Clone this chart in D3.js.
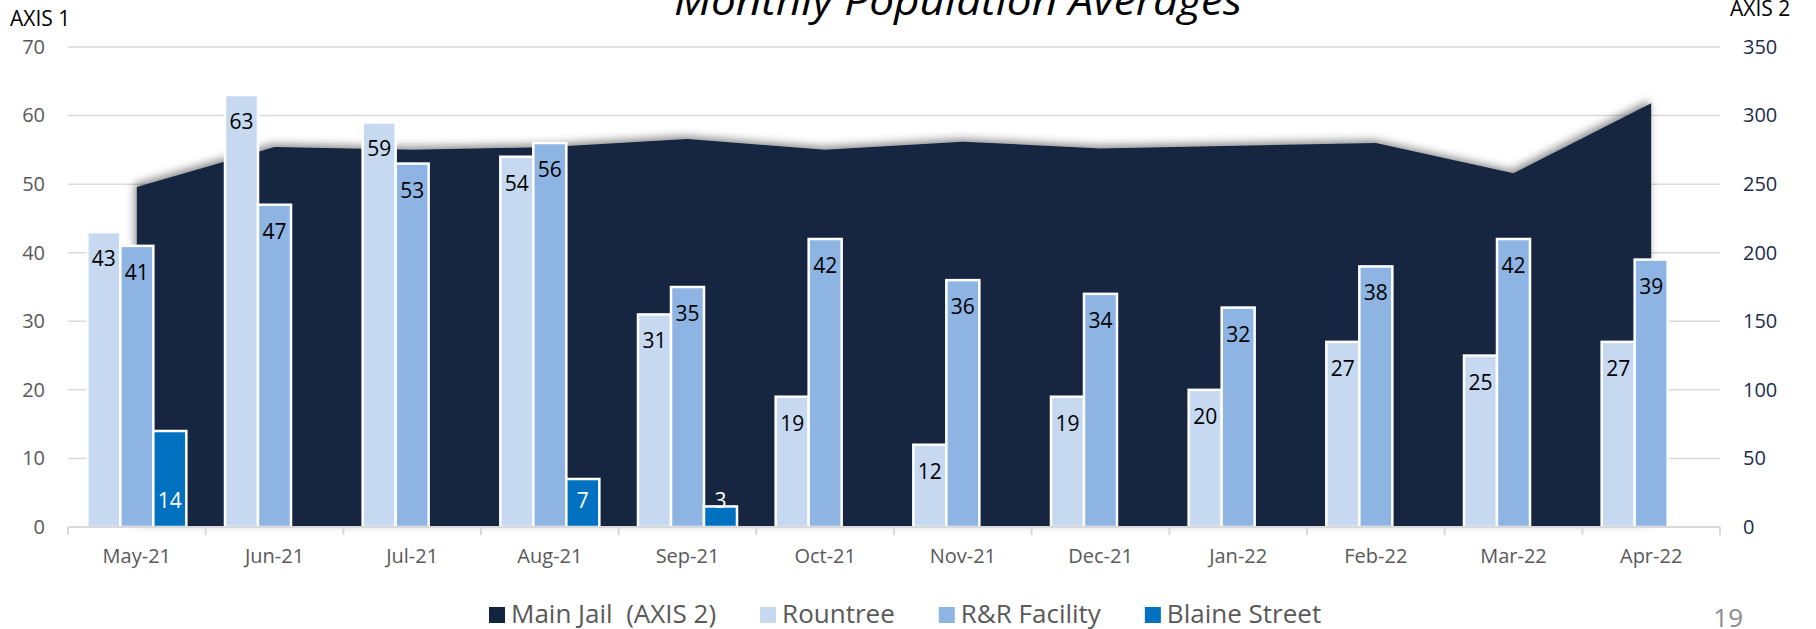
<!DOCTYPE html>
<html>
<head>
<meta charset="utf-8">
<script src="https://cdn.jsdelivr.net/npm/d3@7"></script>
<style>
  body { margin: 0; background: #fff; }
  svg { display: block; font-family: "Open Sans", sans-serif; }
</style>
</head>
<body>
<div id="chart"></div>
<script>
// chart data
const months = ['May-21', 'Jun-21', 'Jul-21', 'Aug-21', 'Sep-21', 'Oct-21',
                'Nov-21', 'Dec-21', 'Jan-22', 'Feb-22', 'Mar-22', 'Apr-22'];
const mainJail = [248, 277, 275, 277, 283, 275, 281, 276, 278, 280, 258, 309];
const rountree = [43, 63, 59, 54, 31, 19, 12, 19, 20, 27, 25, 27];
const rrFacility = [41, 47, 53, 56, 35, 42, 36, 34, 32, 38, 42, 39];
const blaineStreet = [14, null, null, 7, 3, null, null, null, null, null, null, null];
const axis1Ticks = [0, 10, 20, 30, 40, 50, 60, 70];
const axis2Ticks = [0, 50, 100, 150, 200, 250, 300, 350];

const W = 1816, H = 629;
const margin = {top: 47, right: 96, bottom: 102, left: 68};
const navy = '#12253f', grid = '#d9d9d9', gray = '#595959';

const svg = d3.select('#chart').append('svg')
    .attr('width', W).attr('height', H);

const defs = svg.append('defs');
const f = defs.append('filter').attr('id', 'shadow')
    .attr('x', '-5%').attr('y', '-20%').attr('width', '110%').attr('height', '140%');
f.append('feDropShadow').attr('dx', -2).attr('dy', -3)
    .attr('stdDeviation', 4).attr('flood-color', '#000').attr('flood-opacity', 0.45);

const x = d3.scaleBand(months, [margin.left, W - margin.right]).padding(0);
const slots = d3.scaleBand(['Rountree', 'R&R Facility', 'Blaine Street'],
    [-49.5, 49.5]).padding(0);
const y1 = d3.scaleLinear([0, 70], [H - margin.bottom, margin.top]);
const y2 = d3.scaleLinear([0, 350], [H - margin.bottom, margin.top]);
const cx = m => x(m) + x.bandwidth() / 2;

// gridlines
svg.append('g').selectAll('line')
  .data(axis1Ticks.filter(d => d > 0))
  .join('line')
    .attr('x1', margin.left).attr('x2', W - margin.right)
    .attr('y1', d => y1(d)).attr('y2', d => y1(d))
    .attr('stroke', grid).attr('stroke-width', 1.5);

// main jail area (axis 2)
const area = d3.area()
    .x((d, i) => cx(months[i]))
    .y0(y2(0))
    .y1(d => y2(d));
svg.append('path')
    .datum(mainJail)
    .attr('d', area)
    .attr('fill', navy)
    .attr('filter', 'url(#shadow)');

// bars (axis 1)
const series = [
  {name: 'Rountree', values: rountree, color: '#c6d9f0'},
  {name: 'R&R Facility', values: rrFacility, color: '#8eb4e3'},
  {name: 'Blaine Street', values: blaineStreet, color: '#0070c0'}
];
series.forEach(s => {
  const pts = s.values.map((v, i) => ({m: months[i], v})).filter(d => d.v != null);
  const g = svg.append('g');
  g.selectAll('rect').data(pts).join('rect')
    .attr('x', d => cx(d.m) + slots(s.name))
    .attr('y', d => y1(d.v))
    .attr('width', slots.bandwidth())
    .attr('height', d => y1(0) - y1(d.v))
    .attr('fill', s.color)
    .attr('stroke', '#fff').attr('stroke-width', 2.5);
  g.selectAll('text').data(pts).join('text')
    .attr('x', d => cx(d.m) + slots(s.name) + slots.bandwidth() / 2)
    .attr('y', d => s.name === 'Blaine Street' ? y1(0) - 19 : y1(d.v) + 34)
    .attr('text-anchor', 'middle')
    .attr('font-size', 21)
    .attr('fill', s.name === 'Blaine Street' ? '#fff' : '#000')
    .text(d => d.v);
});

// baseline + category ticks
const base = svg.append('g').attr('stroke', grid).attr('stroke-width', 2);
base.append('line')
    .attr('x1', margin.left).attr('x2', W - margin.right)
    .attr('y1', y1(0)).attr('y2', y1(0));
base.selectAll('line.tick')
  .data(months.map(m => x(m)).concat([W - margin.right]))
  .join('line').classed('tick', true)
    .attr('x1', d => d).attr('x2', d => d)
    .attr('y1', y1(0)).attr('y2', y1(0) + 8);

// x labels
const axisX = svg.append('g')
    .attr('transform', `translate(0,${y1(0)})`)
    .call(d3.axisBottom(x).tickSize(0).tickPadding(22));
axisX.select('.domain').remove();
axisX.selectAll('text').attr('font-size', 20).attr('fill', gray)
    .attr('font-family', '"Open Sans", sans-serif');

// left axis
const axisL = svg.append('g')
    .attr('transform', `translate(${margin.left},0)`)
    .call(d3.axisLeft(y1).tickValues(axis1Ticks).tickSize(0).tickPadding(23));
axisL.select('.domain').remove();
axisL.selectAll('text').attr('font-size', 20).attr('fill', gray)
    .attr('font-family', '"Open Sans", sans-serif');

// right axis
const axisR = svg.append('g')
    .attr('transform', `translate(${W - margin.right},0)`)
    .call(d3.axisRight(y2).tickValues(axis2Ticks).tickSize(0).tickPadding(23));
axisR.select('.domain').remove();
axisR.selectAll('text').attr('font-size', 20).attr('fill', '#1c2c4c')
    .attr('font-family', '"Open Sans", sans-serif');

// titles
svg.append('text')
    .attr('x', 674).attr('y', 15)
    .attr('font-size', 40).attr('font-style', 'italic')
    .attr('textLength', 568).attr('lengthAdjust', 'spacingAndGlyphs')
    .text('Monthly Population Averages');
svg.append('text').attr('x', 10).attr('y', 26).attr('font-size', 21)
    .text('AXIS 1');
svg.append('text').attr('x', 1730).attr('y', 16).attr('font-size', 21)
    .text('AXIS 2');
svg.append('text').attr('x', 1743).attr('y', 627).attr('font-size', 26)
    .attr('text-anchor', 'end').attr('fill', '#8c8c8c')
    .text('19');

// legend
const legendItems = [
  {label: 'Main Jail  (AXIS 2)', color: navy},
  {label: 'Rountree', color: '#c6d9f0'},
  {label: 'R&R Facility', color: '#8eb4e3'},
  {label: 'Blaine Street', color: '#0070c0'}
];
const legend = svg.append('g');
let lx = 489;
legendItems.forEach(it => {
  legend.append('rect').attr('x', lx).attr('y', 607)
      .attr('width', 16).attr('height', 16).attr('fill', it.color);
  const t = legend.append('text').attr('x', lx + 22).attr('y', 623)
      .attr('font-size', 26).attr('fill', gray)
      .attr('xml:space', 'preserve')
      .style('white-space', 'pre')
      .text(it.label);
  lx += 22 + t.node().getComputedTextLength() + 44;
});
</script>
</body>
</html>
